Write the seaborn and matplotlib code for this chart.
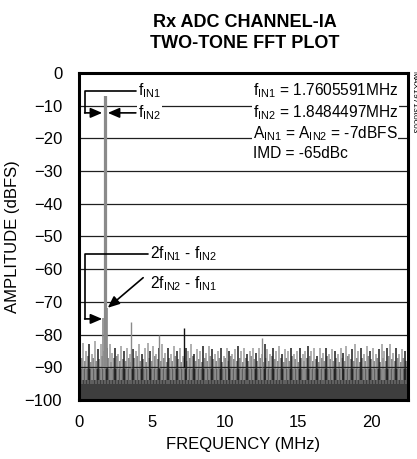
import numpy as np
import pandas as pd
import matplotlib
matplotlib.use("Agg")
import matplotlib.pyplot as plt
import seaborn as sns

# 两个主信号与杂散 (MHz, dBFS)
tone_freq = [1.7605591, 1.8484497]
tone_amp = [-7, -7]
imd_freq = [1.6726685, 1.9363403]
imd_amp = [-75, -72]
spur_freq = [3.6, 5.46, 7.17, 12.56]
spur_amp = [-76, -80, -78, -81]
spur_color = ["#8a8a8a", "#8a8a8a", "#111111", "#8a8a8a"]

# 噪声底 (每 0.2MHz 的峰值, 从图上估读)
noise_start, noise_step = 0.1, 0.2
noise_hi = [-84, -82.5, -85, -83, -86, -82, -84.5, -83, -85, -84,
            -83, -85.5, -84, -86, -83.5, -85, -84, -86, -84.5, -85,
            -83, -86, -84, -82.5, -85, -83.5, -86, -84, -83, -85.5,
            -84, -86, -83.5, -85, -84, -86.5, -84, -85, -83, -86,
            -84.5, -85, -83.5, -85.5, -83.5, -84.5, -86, -85, -84, -86.5,
            -84, -85, -86, -84.5, -83.5, -85, -84, -86, -85, -84,
            -85.5, -84, -86, -83, -84.5, -86, -84, -85, -83.5, -86,
            -84.5, -85, -84, -86, -85, -84, -86, -85, -83.5, -85,
            -84, -86.5, -84, -85.5, -84, -86, -84.5, -85, -86, -84,
            -85.5, -83.5, -86, -84.5, -83, -85, -84, -86, -83.5, -85,
            -84, -86, -84.5, -83, -85, -84, -83, -85.5, -84, -86,
            -84.5, -85]
noise_mid = [-87, -88, -86.5, -88.5, -87, -88, -87.5, -86.5, -88, -87,
             -88.5, -87, -86.5, -88, -87.5, -88, -87, -88.5, -87, -86.5,
             -88, -87.5, -88.5, -87, -88, -86.5, -87.5, -88, -87, -88.5,
             -87, -88, -86.5, -87.5, -88.5, -87, -88, -87, -86.5, -88,
             -87.5, -88.5, -87, -88, -86.5, -87.5, -88, -87, -88.5, -87,
             -88, -86.5, -87.5, -88, -87, -88.5, -87, -88, -86.5, -87.5,
             -88, -87, -88.5, -87, -88, -86.5, -87.5, -88, -87, -88.5,
             -87, -88, -86.5, -87.5, -88.5, -87, -88, -87, -86.5, -88,
             -87.5, -88.5, -87, -88, -86.5, -87.5, -88, -87, -88.5, -87,
             -88, -86.5, -87.5, -88, -87, -88.5, -87, -88, -86.5, -87.5,
             -88, -87, -88.5, -87, -88, -86.5, -87.5, -88, -87, -88.5,
             -87, -88]
floor_level = -90.5

x_ticks = [0, 5, 10, 15, 20]
y_ticks = [0, -10, -20, -30, -40, -50, -60, -70, -80, -90, -100]

sns.set_style("white")
plt.rcParams['font.family'] = ['Liberation Sans', 'DejaVu Sans']
plt.rcParams['mathtext.fontset'] = 'custom'
plt.rcParams['mathtext.rm'] = 'Liberation Sans'
for k in ['text.color', 'axes.labelcolor', 'xtick.color', 'ytick.color']:
    plt.rcParams[k] = 'black'

fig = plt.figure(figsize=(4.17, 4.59), dpi=100)
ax = fig.add_axes([0.189, 0.1285, 0.789, 0.7125])

n = len(noise_hi)
f_hi = noise_start + noise_step * np.arange(n)
f_mid = f_hi + noise_step / 2

# 噪声填充
floor_df = pd.DataFrame({'f': [0, 22.5], 'a': [floor_level, floor_level]})
ax.fill_between(floor_df['f'], -100, floor_df['a'], color='#3e3e3e', lw=0, zorder=1)
cols = ['#9a9a9a' if i % 3 else '#1a1a1a' for i in range(n)]
ax.vlines(f_mid, -95, noise_mid, colors='#6a6a6a', lw=1.1, zorder=2)
ax.vlines(f_hi, -94, noise_hi, colors=cols, lw=1.1, zorder=2)

# 杂散与信号
ax.vlines(spur_freq, -90, spur_amp, colors=spur_color, lw=1.0, zorder=3)
ax.vlines(imd_freq, -90, imd_amp, colors='#8a8a8a', lw=1.2, zorder=3)
ax.vlines(tone_freq, -90, tone_amp, colors='#8a8a8a', lw=1.6, zorder=3)

ax.set_xlim(0, 22.5)
ax.set_ylim(-100, 0)
ax.set_xticks(x_ticks)
ax.set_yticks(y_ticks)
ax.yaxis.grid(True, color='#202020', lw=0.9, zorder=2.5)
ax.set_axisbelow(False)
ax.tick_params(axis='x', direction='out', length=5, width=1, labelsize=12, pad=6, color='black')
ax.tick_params(axis='y', length=0, labelsize=12, pad=12)
for s in ax.spines.values():
    s.set_linewidth(2.2)
    s.set_color('black')
    s.set_zorder(5)

ax.set_xlabel('FREQUENCY (MHz)', fontsize=12, labelpad=5)
ax.set_ylabel('AMPLITUDE (dBFS)', fontsize=12, labelpad=3)
fig.text(0.587, 0.928, 'Rx ADC CHANNEL-IA\nTWO-TONE FFT PLOT', ha='center', va='center',
         fontsize=13, fontweight='bold', linespacing=1.3)

bb = dict(facecolor='white', edgecolor='none', pad=0.6)
txt = dict(fontsize=11.2, va='center', ha='left', zorder=6, bbox=bb)
sub = lambda s: r'$_\mathregular{' + s + '}$'

# 右侧说明
ax.text(11.9, -5.5, 'f' + sub('IN1') + ' = 1.7605591MHz', **txt)
ax.text(11.9, -12.2, 'f' + sub('IN2') + ' = 1.8484497MHz', **txt)
ax.text(11.9, -18.4, 'A' + sub('IN1') + ' = A' + sub('IN2') + ' = -7dBFS', **txt)
ax.text(11.9, -24.6, 'IMD = -65dBc', **txt)

# 信号标注
ax.text(4.05, -5.5, 'f' + sub('IN1'), **txt)
ax.text(4.05, -12.2, 'f' + sub('IN2'), **txt)
ax.plot([3.9, 0.4, 0.4], [-5.5, -5.5, -12.2], color='black', lw=1.2, zorder=6)
head = dict(arrowstyle='-|>,head_length=0.7,head_width=0.3', color='black', lw=1.2, shrinkA=0, shrinkB=0)
ax.annotate('', xy=(1.6, -12.2), xytext=(0.4, -12.2), arrowprops=head, zorder=6)
ax.annotate('', xy=(1.98, -12.2), xytext=(3.9, -12.2), arrowprops=head, zorder=6)

# 交调标注
ax.text(4.85, -55.2, '2f' + sub('IN1') + ' - f' + sub('IN2'), **txt)
ax.text(4.85, -64.4, '2f' + sub('IN2') + ' - f' + sub('IN1'), **txt)
ax.plot([4.7, 0.4, 0.4], [-55.2, -55.2, -75.2], color='black', lw=1.2, zorder=6)
ax.annotate('', xy=(1.6, -75.2), xytext=(0.4, -75.2), arrowprops=head, zorder=6)
ax.annotate('', xy=(1.98, -71.8), xytext=(4.4, -62.6), arrowprops=head, zorder=6)

fig.text(0.9915, 0.845, 'MAX19713toc03', rotation=270, ha='center', va='top', fontsize=6)

fig.savefig('out.png', dpi=100)
